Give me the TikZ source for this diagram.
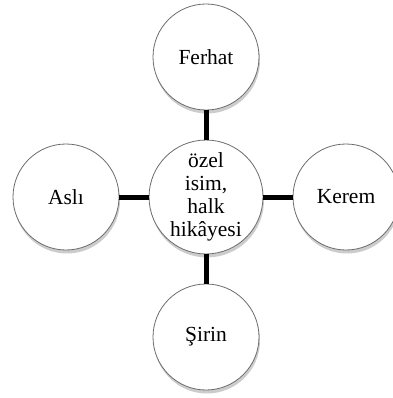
\documentclass[tikz,border=0pt]{standalone}
\usepackage{fontspec}
\setmainfont{Liberation Serif}
\usetikzlibrary{shadows}
\begin{document}
\begin{tikzpicture}[x=1pt,y=-1pt,
  bubble/.style={circle, draw=gray!85!black, line width=0.8pt, fill=white,
    minimum size=106pt, inner sep=0pt, align=center,
    font=\fontsize{21.5}{23}\selectfont,
    drop shadow={shadow xshift=1pt, shadow yshift=-3.5pt, opacity=0.4, fill=gray}},
  link/.style={line width=5pt, draw=black}]
\useasboundingbox (0,0) rectangle (392,398);
\node[bubble] (c) at (206,197) {özel\\isim,\\halk\\hikâyesi};
\node[bubble] (f) at (206,57) {Ferhat};
\node[bubble] (s) at (206,337) {Şirin};
\node[bubble] (a) at (66,197) {Aslı};
\node[bubble] (k) at (346,197) {Kerem};
\draw[link] (c) -- (f);
\draw[link] (c) -- (s);
\draw[link] (c) -- (a);
\draw[link] (c) -- (k);
\end{tikzpicture}
\end{document}
